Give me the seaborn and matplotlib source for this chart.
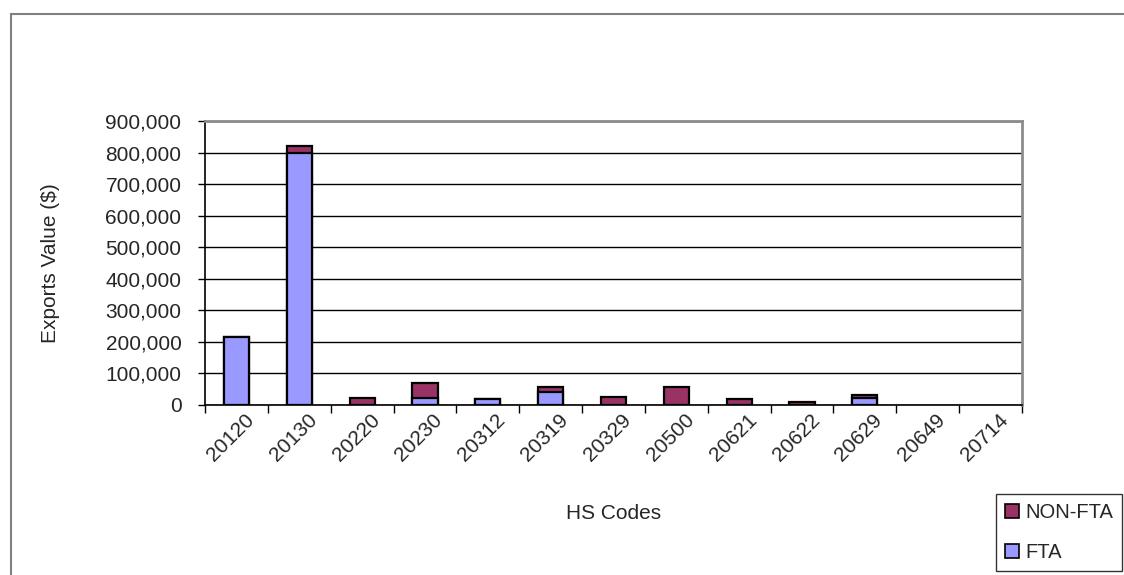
import matplotlib
matplotlib.use("Agg")
import matplotlib.pyplot as plt
import matplotlib.transforms as mtransforms
from matplotlib.patches import Patch, Rectangle
from matplotlib.ticker import FuncFormatter, MultipleLocator, FixedLocator
import numpy as np
import pandas as pd
import seaborn as sns

hs_codes = ["20120", "20130", "20220", "20230", "20312", "20319", "20329",
            "20500", "20621", "20622", "20629", "20649", "20714"]
fta = [215000, 798000, 0, 22000, 18000, 41000, 0, 0, 0, 0, 21000, 0, 0]
non_fta = [0, 22000, 21000, 48000, 0, 17000, 26000, 58000, 20000, 8000, 10000, 0, 0]

FTA_COLOR = "#9999FF"
NON_FTA_COLOR = "#993366"
FS = 15

sns.set_theme(style="white")
plt.rcParams["font.family"] = ["Liberation Sans", "DejaVu Sans"]

df = pd.DataFrame({"code": hs_codes, "FTA": fta, "NON-FTA": non_fta})
df["total"] = df["FTA"] + df["NON-FTA"]

fig = plt.figure(figsize=(11.24, 5.75), dpi=100)
ax = fig.add_axes([205 / 1124, 1 - 405 / 575, 817 / 1124, 284 / 575])

# outer chart frame
fig.patches.append(Rectangle((11 / 1124, -0.05), 1.2, 1 - 14 / 575 + 0.05,
                             transform=fig.transFigure, fill=False,
                             edgecolor="#808080", linewidth=1.5, zorder=0))

# stacked bars: full height in NON-FTA colour, FTA segment drawn over the base
sns.barplot(data=df, x="code", y="total", color=NON_FTA_COLOR, width=0.4,
            saturation=1, edgecolor="black", linewidth=1.6, ax=ax, zorder=3)
sns.barplot(data=df, x="code", y="FTA", color=FTA_COLOR, width=0.4,
            saturation=1, edgecolor="black", linewidth=1.6, ax=ax, zorder=4)
# codes with no exports have no visible bar
for p in ax.patches:
    if p.get_height() == 0:
        p.set_visible(False)

ax.set_xlim(-0.5, len(hs_codes) - 0.5)
ax.set_ylim(0, 900000)
ax.yaxis.set_major_locator(MultipleLocator(100000))
ax.yaxis.set_major_formatter(FuncFormatter(lambda v, p: f"{int(v):,}"))
ax.grid(axis="y", color="black", linewidth=1.0, zorder=1)
ax.set_axisbelow(True)

for side in ("top", "right"):
    ax.spines[side].set_color("#8c8c8c")
    ax.spines[side].set_linewidth(2)
for side in ("left", "bottom"):
    ax.spines[side].set_color("black")
    ax.spines[side].set_linewidth(1.2)

ax.tick_params(axis="y", which="major", direction="out", length=5, width=1,
               color="black", labelsize=FS, pad=12, left=True)
ax.xaxis.set_minor_locator(FixedLocator(np.arange(-0.5, len(hs_codes), 1.0)))
ax.tick_params(axis="x", which="minor", direction="out", length=6, width=1,
               color="black", bottom=True)
ax.tick_params(axis="x", which="major", length=0, labelsize=FS, pad=4)
shift = mtransforms.ScaledTranslation(8 / 100, 0, fig.dpi_scale_trans)
for lbl in ax.get_xticklabels():
    lbl.set_rotation(45)
    lbl.set_ha("right")
    lbl.set_va("top")
    lbl.set_rotation_mode("anchor")
    lbl.set_transform(lbl.get_transform() + shift)

ax.set_xlabel("HS Codes", fontsize=FS, labelpad=28)
ax.set_ylabel("Exports Value ($)", fontsize=FS, labelpad=33)

handles = [Patch(facecolor=NON_FTA_COLOR, edgecolor="black", linewidth=1.2, label="NON-FTA"),
           Patch(facecolor=FTA_COLOR, edgecolor="black", linewidth=1.2, label="FTA")]
leg = fig.legend(handles=handles, loc="upper left",
                 bbox_to_anchor=(996 / 1124, 1 - 494 / 575),
                 frameon=True, fancybox=False, fontsize=14.5,
                 handlelength=0.7, handleheight=0.7, handletextpad=0.3,
                 labelspacing=1.05, borderpad=0.45, borderaxespad=0)
leg._legend_box.align = "left"
leg.get_frame().set_edgecolor("black")
leg.get_frame().set_linewidth(1.0)

fig.savefig("out.png", dpi=100)
